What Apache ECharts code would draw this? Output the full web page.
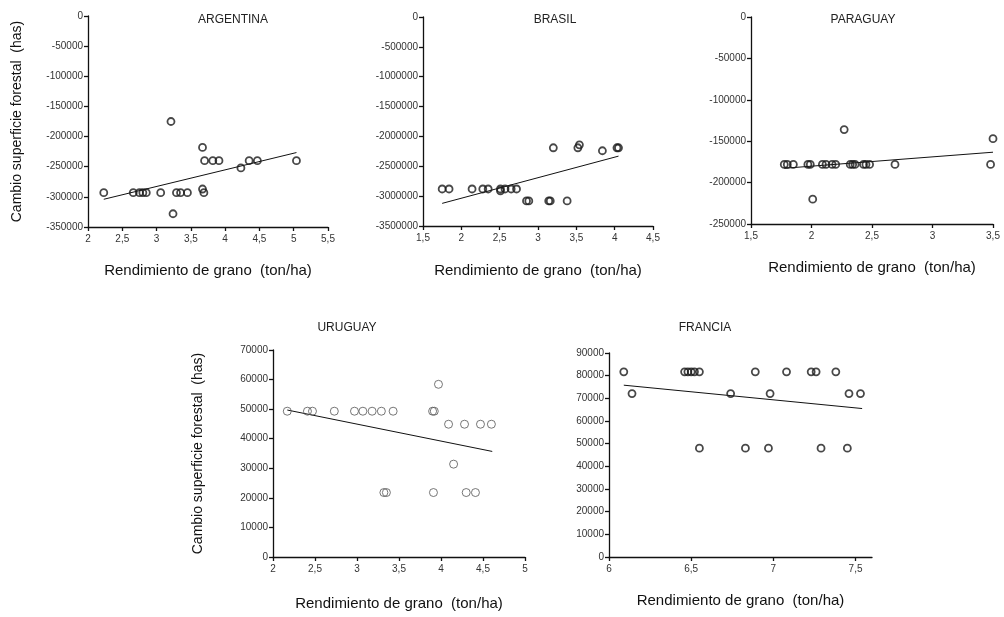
<!DOCTYPE html>
<html>
<head>
<meta charset="utf-8">
<script src="https://cdn.jsdelivr.net/npm/echarts@6/dist/echarts.min.js"></script>
<style>
html,body{margin:0;padding:0;background:#fff;}
#c{width:1004px;height:617px;}
</style>
</head>
<body>
<div id="c"></div>
<script>
// ---- Data ----
const panelTitles = ['ARGENTINA', 'BRASIL', 'PARAGUAY', 'URUGUAY', 'FRANCIA'];
const xAxisName = 'Rendimiento de grano  (ton/ha)';
const yAxisName = 'Cambio superficie forestal  (has)';

const argX = [2.23, 2.66, 2.75, 2.80, 2.85, 3.06, 3.21, 3.24, 3.29, 3.35, 3.45, 3.67, 3.67, 3.69, 3.70, 3.82, 3.91, 4.23, 4.35, 4.47, 5.04];
const argY = [-293000, -293000, -293000, -293000, -293000, -293000, -175000, -328000, -293000, -293000, -293000, -218000, -287000, -293000, -240000, -240000, -240000, -252000, -240000, -240000, -240000];
const argTrendX = [2.23, 5.04];
const argTrendY = [-304000, -226500];

const braX = [1.75, 1.84, 2.14, 2.28, 2.35, 2.51, 2.51, 2.57, 2.65, 2.72, 2.85, 2.88, 3.14, 3.16, 3.20, 3.38, 3.52, 3.54, 3.84, 4.03, 4.05];
const braY = [-2880000, -2880000, -2880000, -2880000, -2880000, -2880000, -2910000, -2880000, -2880000, -2880000, -3080000, -3080000, -3080000, -3080000, -2190000, -3080000, -2190000, -2140000, -2240000, -2190000, -2190000];
const braTrendX = [1.75, 4.05];
const braTrendY = [-3121000, -2330000];

const parX = [1.775, 1.80, 1.85, 1.97, 1.99, 2.01, 2.09, 2.12, 2.17, 2.20, 2.27, 2.32, 2.34, 2.36, 2.43, 2.45, 2.48, 2.69, 3.48, 3.50];
const parY = [-178000, -178000, -178000, -178000, -178000, -220000, -178000, -178000, -178000, -178000, -136000, -178000, -178000, -178000, -178000, -178000, -178000, -178000, -178000, -147000];
const parTrendX = [1.775, 3.50];
const parTrendY = [-182700, -163300];

const uruX = [2.17, 2.41, 2.47, 2.73, 2.97, 3.07, 3.18, 3.29, 3.43, 3.32, 3.35, 3.90, 3.92, 3.97, 3.91, 4.09, 4.15, 4.28, 4.30, 4.41, 4.47, 4.60];
const uruY = [49300, 49300, 49300, 49300, 49300, 49300, 49300, 49300, 49300, 21800, 21800, 49300, 49300, 58400, 21800, 44900, 31400, 44900, 21800, 21800, 44900, 44900];
const uruTrendX = [2.17, 4.61];
const uruTrendY = [49700, 35700];

const fraX = [6.09, 6.14, 6.46, 6.48, 6.50, 6.52, 6.55, 6.55, 6.74, 6.83, 6.89, 6.97, 6.98, 7.08, 7.23, 7.26, 7.29, 7.38, 7.45, 7.46, 7.53];
const fraY = [81700, 72100, 81700, 81700, 81700, 81700, 81700, 48000, 72100, 48000, 81700, 48000, 72100, 81700, 81700, 81700, 48000, 81700, 48000, 72100, 72100];
const fraTrendX = [6.09, 7.54];
const fraTrendY = [75800, 65500];

// axis ranges / ticks
const xTicksArg = [2, 2.5, 3, 3.5, 4, 4.5, 5, 5.5];
const xTicksBra = [1.5, 2, 2.5, 3, 3.5, 4, 4.5];
const xTicksPar = [1.5, 2, 2.5, 3, 3.5];
const xTicksUru = [2, 2.5, 3, 3.5, 4, 4.5, 5];
const xTicksFra = [6, 6.5, 7, 7.5];

// ---- Build ----
const zip = (a, b) => a.map((v, i) => [v, b[i]]);
const FONT = 'Liberation Sans';
const grids = [
  {left: 88, top: 16, width: 240, height: 211},
  {left: 423, top: 17, width: 230, height: 209},
  {left: 751, top: 17, width: 242, height: 207},
  {left: 273, top: 350, width: 252, height: 207},
  {left: 609, top: 353, width: 263, height: 204}
];
const panels = [
  {xs: argX, ys: argY, tx: argTrendX, ty: argTrendY, xmin: 2, xmax: 5.5, xt: xTicksArg, ymin: -350000, ymax: 0, yint: 50000, yname: true, title: [233, 20], gap: 36},
  {xs: braX, ys: braY, tx: braTrendX, ty: braTrendY, xmin: 1.5, xmax: 4.5, xt: xTicksBra, ymin: -3500000, ymax: 0, yint: 500000, yname: false, title: [555, 20], gap: 37},
  {xs: parX, ys: parY, tx: parTrendX, ty: parTrendY, xmin: 1.5, xmax: 3.5, xt: xTicksPar, ymin: -250000, ymax: 0, yint: 50000, yname: false, title: [863, 20], gap: 36},
  {xs: uruX, ys: uruY, tx: uruTrendX, ty: uruTrendY, xmin: 2, xmax: 5, xt: xTicksUru, ymin: 0, ymax: 70000, yint: 10000, yname: true, title: [347, 328], thin: true, gap: 39},
  {xs: fraX, ys: fraY, tx: fraTrendX, ty: fraTrendY, xmin: 6, xmax: 7.6, xt: xTicksFra, ymin: 0, ymax: 90000, yint: 10000, yname: false, title: [705, 328], gap: 36}
];

const axisLineStyle = {color: '#111', width: 1.3};
const xAxes = [], yAxes = [], series = [], graphics = [];
panels.forEach((p, i) => {
  xAxes.push({
    type: 'value', gridIndex: i, min: p.xmin, max: p.xmax, interval: 0.5,
    splitLine: {show: false},
    axisLine: {show: true, onZero: false, lineStyle: axisLineStyle},
    axisTick: {show: true, length: 4, inside: false, lineStyle: axisLineStyle, customValues: p.xt},
    axisLabel: {customValues: p.xt, margin: 7, fontSize: 10, color: '#333', fontFamily: FONT,
      formatter: v => String(v).replace('.', ',')},
    name: xAxisName, nameLocation: 'middle', nameGap: p.gap,
    nameTextStyle: {fontSize: 15, color: '#111', fontFamily: FONT}
  });
  yAxes.push({
    type: 'value', gridIndex: i, min: p.ymin, max: p.ymax, interval: p.yint,
    splitLine: {show: false},
    axisLine: {show: true, onZero: false, lineStyle: axisLineStyle},
    axisTick: {show: true, length: 4, inside: false, lineStyle: axisLineStyle},
    axisLabel: {margin: 5, fontSize: 10, color: '#333', fontFamily: FONT, formatter: v => String(v)},
    name: p.yname ? yAxisName : '', nameLocation: 'middle', nameGap: i === 0 ? 64 : 68, nameRotate: 90,
    nameTextStyle: {fontSize: 14, color: '#111', fontFamily: FONT}
  });
  series.push({
    type: 'scatter', xAxisIndex: i, yAxisIndex: i, data: zip(p.xs, p.ys),
    symbol: 'circle', symbolSize: p.thin ? 8 : 7,
    itemStyle: {color: 'rgba(255,255,255,0)', borderColor: p.thin ? '#555' : '#1a1a1a', borderWidth: p.thin ? 1 : 1.8},
    silent: true, z: 3
  });
  series.push({
    type: 'line', xAxisIndex: i, yAxisIndex: i, data: zip(p.tx, p.ty),
    symbol: 'none', lineStyle: {color: '#111', width: 1}, silent: true, z: 2
  });
  graphics.push({
    type: 'text', x: p.title[0], y: p.title[1],
    style: {text: panelTitles[i], align: 'center', verticalAlign: 'middle', fontSize: 12, fill: '#222', fontFamily: FONT}
  });
});

const chart = echarts.init(document.getElementById('c'), null, {renderer: 'canvas'});
chart.setOption({
  backgroundColor: '#fff',
  animation: false,
  grid: grids,
  xAxis: xAxes,
  yAxis: yAxes,
  series: series,
  graphic: graphics
});
</script>
</body>
</html>
